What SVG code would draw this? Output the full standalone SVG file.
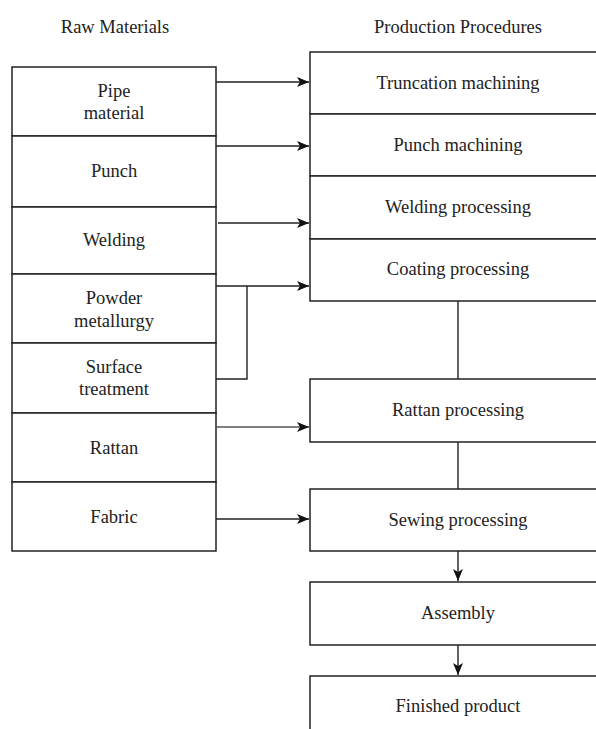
<svg xmlns="http://www.w3.org/2000/svg" width="596" height="729" viewBox="0 0 596 729">
<style>
.box{fill:#fff;stroke:#222;stroke-width:1.5}
.t{font-size:18.5px;fill:#222;text-anchor:middle}
.c{fill:none;stroke:#222;stroke-width:1.4}
</style>
<defs>
<marker id="ah" viewBox="0 0 12 10" refX="12" refY="5" markerWidth="12" markerHeight="10" markerUnits="userSpaceOnUse" orient="auto">
<path d="M0,0 L12,5 L0,10 L3,5 Z" fill="#111"/>
</marker>
</defs>
<rect width="596" height="729" fill="#fff"/>
<g font-family="Liberation Serif, serif" style="font-family:'Liberation Serif',serif">
<text class="t" x="115" y="33">Raw Materials</text>
<text class="t" x="458" y="33">Production Procedures</text>

<g id="pipe"><rect class="box" x="12" y="67" width="204" height="69"/><text class="t" x="114" y="97">Pipe</text><text class="t" x="114" y="119">material</text></g>
<g id="punch"><rect class="box" x="12" y="136" width="204" height="71"/><text class="t" x="114" y="177">Punch</text></g>
<g id="welding"><rect class="box" x="12" y="207" width="204" height="67"/><text class="t" x="114" y="246">Welding</text></g>
<g id="powder"><rect class="box" x="12" y="274" width="204" height="69"/><text class="t" x="114" y="304">Powder</text><text class="t" x="114" y="327">metallurgy</text></g>
<g id="surface"><rect class="box" x="12" y="343" width="204" height="70"/><text class="t" x="114" y="373">Surface</text><text class="t" x="114" y="395">treatment</text></g>
<g id="rattan"><rect class="box" x="12" y="413" width="204" height="69"/><text class="t" x="114" y="454">Rattan</text></g>
<g id="fabric"><rect class="box" x="12" y="482" width="204" height="69"/><text class="t" x="114" y="523">Fabric</text></g>

<g id="truncation"><rect class="box" x="310" y="52" width="300" height="62"/><text class="t" x="458" y="89">Truncation machining</text></g>
<g id="punchm"><rect class="box" x="310" y="114" width="300" height="62"/><text class="t" x="458" y="151">Punch machining</text></g>
<g id="weldingp"><rect class="box" x="310" y="176" width="300" height="63"/><text class="t" x="458" y="213">Welding processing</text></g>
<g id="coating"><rect class="box" x="310" y="239" width="300" height="62"/><text class="t" x="458" y="275">Coating processing</text></g>
<g id="rattanp"><rect class="box" x="310" y="379" width="300" height="63"/><text class="t" x="458" y="416">Rattan processing</text></g>
<g id="sewing"><rect class="box" x="310" y="489" width="300" height="62"/><text class="t" x="458" y="526">Sewing processing</text></g>
<g id="assembly"><rect class="box" x="310" y="582" width="300" height="63"/><text class="t" x="458" y="619">Assembly</text></g>
<g id="finished"><rect class="box" x="310" y="676" width="300" height="70"/><text class="t" x="458" y="712">Finished product</text></g>
</g>
<g id="connectors">
<path class="c" d="M216,82 H309" marker-end="url(#ah)"/>
<path class="c" d="M216,146 H309" marker-end="url(#ah)"/>
<path class="c" d="M218,223 H309" marker-end="url(#ah)"/>
<path class="c" d="M216,286 H309" marker-end="url(#ah)"/>
<path class="c" d="M216,379 H247 V286"/>
<path class="c" d="M216,427 H309" marker-end="url(#ah)" style="stroke:#555"/>
<path class="c" d="M216,519 H309" marker-end="url(#ah)"/>
<path class="c" d="M458,301 V379"/>
<path class="c" d="M458,442 V489"/>
<path class="c" d="M458,551 V581" marker-end="url(#ah)"/>
<path class="c" d="M458,645 V675" marker-end="url(#ah)"/>
</g>
</svg>
